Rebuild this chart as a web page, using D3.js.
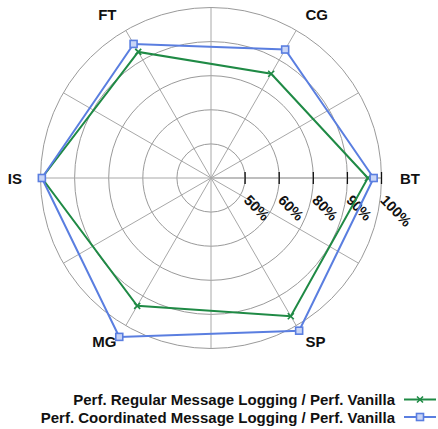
<!DOCTYPE html>
<html>
<head>
<meta charset="utf-8">
<script src="https://cdn.jsdelivr.net/npm/d3@7"></script>
<style>
  body { margin: 0; background: #fff; }
  svg { display: block; font-family: "Liberation Sans", Arial, sans-serif; }
</style>
</head>
<body>
<svg id="chart" width="438" height="429"></svg>
<script>
// Benchmarks, counter-clockwise from the right-hand axis
const benchmarks = ["BT", "CG", "FT", "IS", "MG", "SP"];
// Relative performance (%) of each logging variant against vanilla
const regularLogging = [96.0, 85.3, 92.7, 99.6, 93.3, 96.8];
const coordinatedLogging = [97.7, 93.5, 95.4, 99.6, 103.8, 101.7];
// Ring labels (the rings are evenly spaced)
const ringTicks = [50, 60, 80, 90, 100];
const seriesNames = [
  "Perf. Regular Message Logging / Perf. Vanilla",
  "Perf. Coordinated Message Logging / Perf. Vanilla"
];
const seriesColors = ["#1f8a45", "#5a7ee0"];

const svg = d3.select("#chart");
const cx = 211, cy = 178, R = 170.5;

// Evenly spaced rings carrying uneven percentage labels
const r = d3.scaleLinear()
  .domain([40].concat(ringTicks))
  .range(d3.range(ringTicks.length + 1).map(i => i * R / ringTicks.length));

// Angle of each benchmark, counter-clockwise from the right
const angle = d3.scalePoint().domain(benchmarks).range([0, 2 * Math.PI * 5 / 6]);

const g = svg.append("g").attr("transform", `translate(${cx},${cy})`);

// Rings
g.selectAll("circle.ring").data(ringTicks).enter().append("circle")
  .attr("class", "ring").attr("r", d => r(d))
  .attr("fill", "none").attr("stroke", "#9a9a9a").attr("stroke-width", 1);

// Spokes every 30°
g.selectAll("line.spoke").data(d3.range(12)).enter().append("line")
  .attr("class", "spoke")
  .attr("x1", 0).attr("y1", 0)
  .attr("x2", d => R * Math.cos(d * Math.PI / 6))
  .attr("y2", d => -R * Math.sin(d * Math.PI / 6))
  .attr("stroke", "#a8a8a8")
  .attr("stroke-width", d => d === 0 ? 1.6 : 1);

// Radial axis ticks and rotated labels along the BT axis
const tickG = g.selectAll("g.rtick").data(ringTicks).enter().append("g")
  .attr("class", "rtick")
  .attr("transform", d => `translate(${r(d)},0)`);
tickG.append("line").attr("y1", -6).attr("y2", 6)
  .attr("stroke", "#111").attr("stroke-width", 1.3);
tickG.append("text")
  .attr("transform", "translate(-2,23) rotate(46)")
  .attr("font-size", 14.5).attr("font-weight", "bold").attr("fill", "#111")
  .text(d => d + "%");

// Axis labels, anchored away from the centre
const labelR = 189;
g.selectAll("text.axis").data(benchmarks).enter().append("text")
  .attr("class", "axis")
  .attr("x", d => labelR * Math.cos(angle(d)))
  .attr("y", d => -labelR * Math.sin(angle(d)))
  .attr("text-anchor", d => {
    const c = Math.cos(angle(d));
    return c > 0.01 ? "start" : (c < -0.01 ? "end" : "middle");
  })
  .attr("dominant-baseline", "central")
  .attr("font-size", 15).attr("font-weight", "bold").attr("fill", "#111")
  .text(d => d);

// Series polygons
const seriesData = [regularLogging, coordinatedLogging];
const pt = (v, i) => [r(v) * Math.cos(angle(benchmarks[i])), -r(v) * Math.sin(angle(benchmarks[i]))];
const line = d3.line().curve(d3.curveLinearClosed);

function drawMarker(sel, s, color) {
  if (s === 0) {
    sel.append("path").attr("d", "M-3,-3L3,3M-3,3L3,-3")
      .attr("stroke", color).attr("stroke-width", 1.6).attr("fill", "none");
  } else {
    sel.append("rect").attr("x", -3.5).attr("y", -3.5).attr("width", 7).attr("height", 7)
      .attr("stroke", color).attr("stroke-width", 1.6).attr("fill", "#c9d5f6");
  }
}

seriesData.forEach((vals, s) => {
  const pts = vals.map(pt);
  g.append("path").attr("d", line(pts))
    .attr("fill", "none").attr("stroke", seriesColors[s]).attr("stroke-width", 2);
  pts.forEach(p => {
    const m = g.append("g").attr("transform", `translate(${p[0]},${p[1]})`);
    drawMarker(m, s, seriesColors[s]);
  });
});

// Legend
const legend = svg.append("g");
seriesNames.forEach((name, s) => {
  const y = 399.5 + s * 17.5;
  legend.append("text").attr("x", 395).attr("y", y)
    .attr("text-anchor", "end").attr("dominant-baseline", "central")
    .attr("font-size", 15).attr("font-weight", "bold").attr("fill", "#111")
    .text(name);
  legend.append("line").attr("x1", 404).attr("x2", 436).attr("y1", y).attr("y2", y)
    .attr("stroke", seriesColors[s]).attr("stroke-width", 2);
  const m = legend.append("g").attr("transform", `translate(420,${y})`);
  drawMarker(m, s, seriesColors[s]);
});
</script>
</body>
</html>
